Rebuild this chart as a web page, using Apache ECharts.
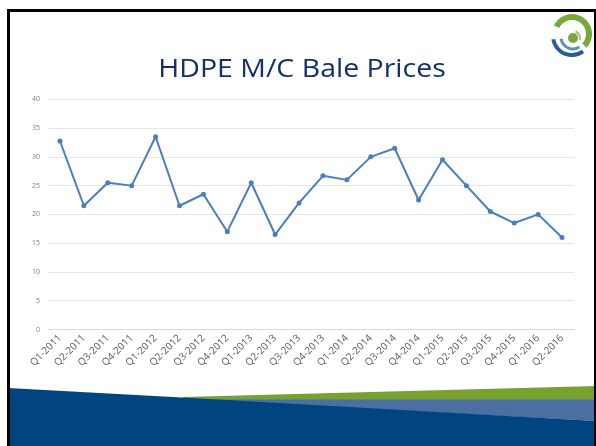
<!DOCTYPE html>
<html>
<head>
<meta charset="utf-8">
<script src="https://cdn.jsdelivr.net/npm/echarts@6/dist/echarts.min.js"></script>
<style>
html,body{margin:0;padding:0;background:#fff;}
#main{width:596px;height:446px;}
</style>
</head>
<body>
<div id="main"></div>
<script>
const titleText = 'HDPE M/C Bale Prices';
const categories = ['Q1-2011','Q2-2011','Q3-2011','Q4-2011','Q1-2012','Q2-2012','Q3-2012','Q4-2012',
  'Q1-2013','Q2-2013','Q3-2013','Q4-2013','Q1-2014','Q2-2014','Q3-2014','Q4-2014',
  'Q1-2015','Q2-2015','Q3-2015','Q4-2015','Q1-2016','Q2-2016'];
const prices = [32.75,21.5,25.5,25,33.5,21.5,23.5,17,25.5,16.5,22,26.7,26,30,31.5,22.5,29.5,25,20.5,18.5,20,16];
const yTicks = {min:0, max:40, interval:5};

const chart = echarts.init(document.getElementById('main'), null, {renderer:'canvas'});
chart.setOption({
  backgroundColor:'#ffffff',
  animation:false,
  grid:{left:48, right:22, top:99.3, bottom:116.5, containLabel:false},
  xAxis:{
    type:'category', data:categories, boundaryGap:true,
    axisLine:{show:true, lineStyle:{color:'#D9D9D9', width:1}},
    axisTick:{show:false},
    axisLabel:{rotate:45, color:'#595959', fontSize:10, fontFamily:'Open Sans', margin:7, interval:0}
  },
  yAxis:{
    type:'value', min:yTicks.min, max:yTicks.max, interval:yTicks.interval,
    axisLine:{show:false}, axisTick:{show:false},
    splitLine:{lineStyle:{color:'#E6E6E6', width:1}},
    axisLabel:{color:'#7F7F7F', fontSize:7, fontFamily:'Open Sans', margin:8}
  },
  series:[{
    type:'line', data:prices,
    symbol:'circle', symbolSize:5,
    lineStyle:{color:'#4A7EBF', width:2},
    itemStyle:{color:'#4A7EBF'}
  }],
  graphic:[
    // title
    {type:'text', z:20, silent:true, x:302, y:69.5, scaleX:1.14,
      style:{text:titleText, fontFamily:'Open Sans', fontSize:25, fill:'#14306B', align:'center', verticalAlign:'middle'}},
    // bottom band
    {type:'polygon', z:1, silent:true, shape:{points:[[183,397],[596,386],[596,400],[183,400]]}, style:{fill:'#78A22F'}},
    {type:'polygon', z:2, silent:true, shape:{points:[[190,399.5],[596,399.5],[596,421]]}, style:{fill:'#4B6FA3'}},
    {type:'polygon', z:3, silent:true, shape:{points:[[8,388],[200,398.5],[596,421],[596,446],[8,446]]}, style:{fill:'#00457F'}},
    // frame
    {type:'rect', z:10, silent:true, shape:{x:7,y:9,width:588,height:3}, style:{fill:'#000'}},
    {type:'rect', z:10, silent:true, shape:{x:7,y:9,width:3,height:437}, style:{fill:'#000'}},
    {type:'rect', z:10, silent:true, shape:{x:594,y:9,width:2,height:437}, style:{fill:'#000'}},
    // logo
    {type:'arc', z:5, silent:true, shape:{cx:572, cy:34, r:17, startAngle:-2.7, endAngle:0.75, clockwise:true}, style:{stroke:'#79A83A', lineWidth:6, fill:null}},
    {type:'arc', z:5, silent:true, shape:{cx:572, cy:36, r:19, startAngle:0.95, endAngle:2.97, clockwise:true}, style:{stroke:'#2A5C9C', lineWidth:4, fill:null}},
    {type:'arc', z:5, silent:true, shape:{cx:573, cy:37, r:12, startAngle:1.0, endAngle:3.0, clockwise:true}, style:{stroke:'#5B8FC6', lineWidth:3, fill:null}},
    {type:'arc', z:5, silent:true, shape:{cx:573, cy:38, r:7, startAngle:-1.2, endAngle:0.3, clockwise:true}, style:{stroke:'#9CC26A', lineWidth:2, fill:null}},
    {type:'circle', z:5, silent:true, shape:{cx:573, cy:38, r:5}, style:{fill:'#79A83A'}}
  ]
});
</script>
</body>
</html>
